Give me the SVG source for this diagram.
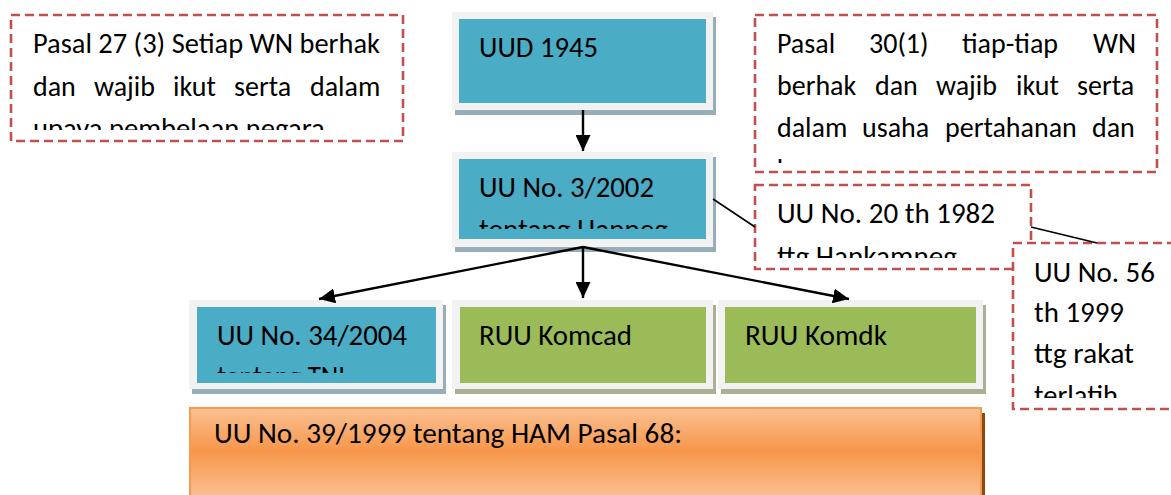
<svg xmlns="http://www.w3.org/2000/svg" width="1171" height="495" viewBox="0 0 1171 495">
<style>
  text { font-family: Carlito, Lato, "Open Sans", sans-serif; font-size: 28px; fill: #000; }
  .dash { fill: #fff; stroke: #c0504d; stroke-width: 2.6; stroke-dasharray: 9 5; }
  .frame { fill: #f2f2f2; }
  .sh-blue { fill: #97adb8; }
  .sh-green { fill: #a9b096; }
  .blue { fill: #4bacc6; }
  .green { fill: #9bbb59; }
  .conn { stroke: #000; stroke-width: 2.4; fill: none; }
  .thin { stroke: #000; stroke-width: 1.6; fill: none; }
</style>
<defs>
  <marker id="arrow" markerUnits="userSpaceOnUse" markerWidth="17" markerHeight="15" refX="16" refY="7.5" orient="auto">
    <path d="M0,0 L16,7.5 L0,15 Z" fill="#000"/>
  </marker>
  <linearGradient id="orange" x1="0" y1="0" x2="0" y2="1">
    <stop offset="0" stop-color="#fac193"/>
    <stop offset="0.48" stop-color="#f7964a"/>
    <stop offset="1" stop-color="#fac193"/>
  </linearGradient>
  <clipPath id="c-p27"><rect x="12" y="17" width="390" height="113"/></clipPath>
  <clipPath id="c-p30"><rect x="757" y="17" width="398" height="146"/></clipPath>
  <clipPath id="c-uu3"><rect x="459" y="159" width="247" height="70"/></clipPath>
  <clipPath id="c-uu20"><rect x="757" y="187" width="272" height="71"/></clipPath>
  <clipPath id="c-uu56"><rect x="1015" y="245" width="156" height="153"/></clipPath>
  <clipPath id="c-uu34"><rect x="197" y="307" width="239" height="66"/></clipPath>
</defs>

<g id="node-pasal27">
  <rect class="dash" x="11" y="15" width="392" height="126"/>
  <g clip-path="url(#c-p27)">
    <text x="33" y="53" textLength="347" lengthAdjust="spacingAndGlyphs">Pasal 27 (3) Setiap WN berhak</text>
    <text y="96"><tspan x="33">dan</tspan><tspan x="94">wajib</tspan><tspan x="173">ikut</tspan><tspan x="234">serta</tspan><tspan x="310">dalam</tspan></text>
    <text x="33" y="138" textLength="299" lengthAdjust="spacingAndGlyphs">upaya pembelaan negara.</text>
  </g>
</g>

<g id="node-pasal30">
  <rect class="dash" x="755" y="15" width="402" height="157"/>
  <g clip-path="url(#c-p30)">
    <text y="53"><tspan x="777">Pasal</tspan><tspan x="869">30(1)</tspan><tspan x="962">tiap-tiap</tspan><tspan x="1093">WN</tspan></text>
    <text y="95"><tspan x="777">berhak</tspan><tspan x="875">dan</tspan><tspan x="936">wajib</tspan><tspan x="1016">ikut</tspan><tspan x="1077">serta</tspan></text>
    <text y="137"><tspan x="777">dalam</tspan><tspan x="862">usaha</tspan><tspan x="945">pertahanan</tspan><tspan x="1092">dan</tspan></text>
    <text x="777" y="179">keamanan negara.</text>
  </g>
</g>

<g id="node-uud1945">
  <rect class="sh-blue" x="455" y="17" width="261" height="98"/>
  <rect class="frame" x="452" y="12" width="261" height="98"/>
  <rect class="blue" x="459" y="19" width="247" height="84"/>
  <text x="479" y="57" textLength="119" lengthAdjust="spacingAndGlyphs">UUD 1945</text>
</g>

<g id="node-uu3">
  <rect class="sh-blue" x="455" y="157" width="261" height="95"/>
  <rect class="frame" x="452" y="152" width="261" height="95"/>
  <rect class="blue" x="459" y="159" width="247" height="80"/>
  <g clip-path="url(#c-uu3)">
    <text x="479" y="197" textLength="175" lengthAdjust="spacingAndGlyphs">UU No. 3/2002</text>
    <text x="479" y="239" textLength="189" lengthAdjust="spacingAndGlyphs">tentang Hanneg</text>
  </g>
</g>

<g id="node-uu20">
  <rect class="dash" x="755" y="185" width="276" height="84"/>
  <g clip-path="url(#c-uu20)">
    <text x="777" y="223" textLength="218" lengthAdjust="spacingAndGlyphs">UU No. 20 th 1982</text>
    <text x="777" y="266" textLength="180" lengthAdjust="spacingAndGlyphs">ttg Hankamneg</text>
  </g>
</g>

<g id="node-uu56">
  <rect class="dash" x="1013" y="243" width="170" height="166"/>
  <g clip-path="url(#c-uu56)">
    <text x="1034" y="282" textLength="121" lengthAdjust="spacingAndGlyphs">UU No. 56</text>
    <text x="1034" y="322" textLength="90" lengthAdjust="spacingAndGlyphs">th 1999</text>
    <text x="1034" y="363" textLength="100" lengthAdjust="spacingAndGlyphs">ttg rakat</text>
    <text x="1034" y="405" textLength="84" lengthAdjust="spacingAndGlyphs">terlatih</text>
  </g>
</g>

<g id="node-uu34">
  <rect class="sh-blue" x="192" y="305" width="254" height="89"/>
  <rect class="frame" x="189" y="300" width="254" height="89"/>
  <rect class="blue" x="197" y="307" width="239" height="76"/>
  <g clip-path="url(#c-uu34)">
    <text x="217" y="345" textLength="190" lengthAdjust="spacingAndGlyphs">UU No. 34/2004</text>
    <text x="217" y="386" textLength="128" lengthAdjust="spacingAndGlyphs">tentang TNI</text>
  </g>
</g>

<g id="node-komcad">
  <rect class="sh-green" x="455" y="305" width="261" height="89"/>
  <rect class="frame" x="452" y="300" width="261" height="89"/>
  <rect class="green" x="460" y="307" width="246" height="76"/>
  <text x="479" y="345" textLength="153" lengthAdjust="spacingAndGlyphs">RUU Komcad</text>
</g>

<g id="node-komdk">
  <rect class="sh-green" x="721" y="305" width="265" height="89"/>
  <rect class="frame" x="718" y="300" width="265" height="89"/>
  <rect class="green" x="725" y="307" width="251" height="76"/>
  <text x="745" y="345" textLength="142" lengthAdjust="spacingAndGlyphs">RUU Komdk</text>
</g>

<g id="node-ham">
  <rect x="982" y="413" width="3" height="84" fill="#8a4a12"/>
  <rect x="190" y="408" width="791" height="90" fill="url(#orange)" stroke="#f79a50" stroke-width="2"/>
  <text x="214" y="443" textLength="468" lengthAdjust="spacingAndGlyphs">UU No. 39/1999 tentang HAM Pasal 68:</text>
</g>

<g id="connectors">
  <path class="conn" d="M583 110 L583 151" marker-end="url(#arrow)"/>
  <path class="conn" d="M583 247 L319 299" marker-end="url(#arrow)"/>
  <path class="conn" d="M583 247 L583 298" marker-end="url(#arrow)"/>
  <path class="conn" d="M583 247 L849 299" marker-end="url(#arrow)"/>
  <path class="thin" d="M713 199 L755 227"/>
  <path class="thin" d="M1031 227 L1097 243"/>
</g>
</svg>
